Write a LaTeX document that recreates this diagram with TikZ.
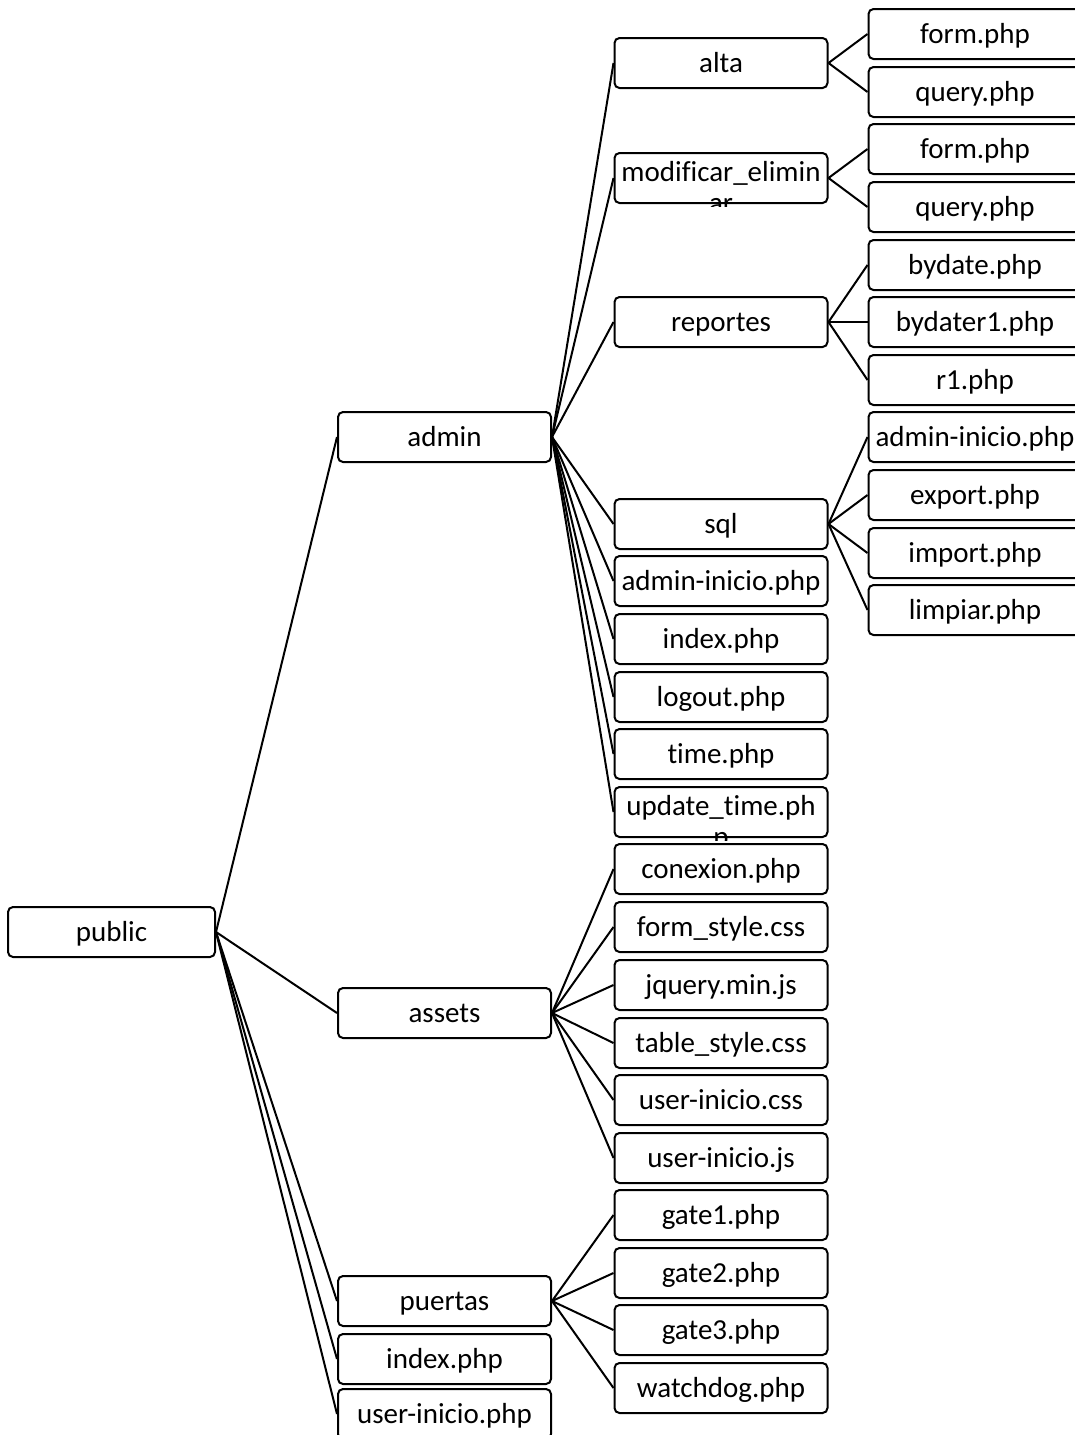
\documentclass[tikz,border=0pt]{standalone}
\usepackage{fontspec}
\setmainfont{Carlito}[Ligatures=NoCommon]
\usetikzlibrary{calc}

\begin{document}
\begin{tikzpicture}[
        x=1pt, y=-1pt,
        box/.style={draw, line width=2pt, rounded corners=5pt, fill=white,
                    minimum width=213pt, minimum height=50pt, inner sep=0pt,
                    text height=21pt, text depth=3pt, font=\fontsize{29}{31}\selectfont},
        rootbox/.style={box, minimum width=207pt},
        spill/.style={inner sep=0pt, font=\fontsize{29}{31}\selectfont},
        edge/.style={line width=2pt},
    ]
    \clip (0,0) rectangle (1075,1435);

    % Connectors first, boxes over them
    \coordinate (dummy) at (0,0);

    % Root
    \node[rootbox] (public) at (111.5,932) {public};

    % First level
    \node[box] (admin) at (444.5,437) {admin};
    \node[box] (assets) at (444.5,1013) {assets};
    \node[box] (puertas) at (444.5,1301) {puertas};
    \node[box] (pubindex) at (444.5,1359) {index.php};
    \node[box] (userinicio) at (444.5,1414) {user-inicio.php};

    % Second level — admin
    \node[box] (alta) at (721,63) {alta};
    \node[box] (modif) at (721,178) {};
    \node[box] (reportes) at (721,322) {reportes};
    \node[box] (sql) at (721,524) {sql};
    \node[box] (admininicio) at (721,581) {admin-inicio.php};
    \node[box] (adminindex) at (721,639) {index.php};
    \node[box] (logout) at (721,697) {logout.php};
    \node[box] (time) at (721,754) {time.php};
    \node[box] (updatetime) at (721,812) {};

    % text that does not fit its box
    \begin{scope}
        \clip ($(modif.south west)+(0,2)$) rectangle (modif.north east);
        \node[spill, anchor=base] (modiftext) at (721,181)
            {\begin{tabular}[t]{@{}c@{}}modificar\_elimin\\ar\end{tabular}};
    \end{scope}
    \begin{scope}
        \clip ($(updatetime.south west)+(0,2)$) rectangle (updatetime.north east);
        \node[spill, anchor=base] (updatetext) at (721,815)
            {\begin{tabular}[t]{@{}c@{}}update\_time.ph\\p\end{tabular}};
    \end{scope}

    % Second level — assets
    \node[box] (conexion) at (721,869) {conexion.php};
    \node[box] (formstyle) at (721,927) {form\_style.css};
    \node[box] (jquery) at (721,985) {jquery.min.js};
    \node[box] (tablestyle) at (721,1043) {table\_style.css};
    \node[box] (usercss) at (721,1100) {user-inicio.css};
    \node[box] (userjs) at (721,1158) {user-inicio.js};

    % Second level — puertas
    \node[box] (gateone) at (721,1215) {gate1.php};
    \node[box] (gatetwo) at (721,1273) {gate2.php};
    \node[box] (gatethree) at (721,1330) {gate3.php};
    \node[box] (watchdog) at (721,1388) {watchdog.php};

    % Third level
    \node[box] (altaform) at (975,34) {form.php};
    \node[box] (altaquery) at (975,92) {query.php};
    \node[box] (modform) at (975,149) {form.php};
    \node[box] (modquery) at (975,207) {query.php};
    \node[box] (bydate) at (975,265) {bydate.php};
    \node[box] (bydater) at (975,322) {bydater1.php};
    \node[box] (rone) at (975,380) {r1.php};
    \node[box] (sqlinicio) at (975,437) {admin-inicio.php};
    \node[box] (export) at (975,495) {export.php};
    \node[box] (import) at (975,553) {import.php};
    \node[box] (limpiar) at (975,610) {limpiar.php};

    % Connectors
    \foreach \child in {admin, assets, puertas, pubindex, userinicio}
        \draw[edge] (public.east) -- (\child.west);
    \foreach \child in {alta, modif, reportes, sql, admininicio, adminindex, logout, time, updatetime}
        \draw[edge] (admin.east) -- (\child.west);
    \foreach \child in {conexion, formstyle, jquery, tablestyle, usercss, userjs}
        \draw[edge] (assets.east) -- (\child.west);
    \foreach \child in {gateone, gatetwo, gatethree, watchdog}
        \draw[edge] (puertas.east) -- (\child.west);
    \foreach \child in {altaform, altaquery}
        \draw[edge] (alta.east) -- (\child.west);
    \foreach \child in {modform, modquery}
        \draw[edge] (modif.east) -- (\child.west);
    \foreach \child in {bydate, bydater, rone}
        \draw[edge] (reportes.east) -- (\child.west);
    \foreach \child in {sqlinicio, export, import, limpiar}
        \draw[edge] (sql.east) -- (\child.west);
\end{tikzpicture}
\end{document}
